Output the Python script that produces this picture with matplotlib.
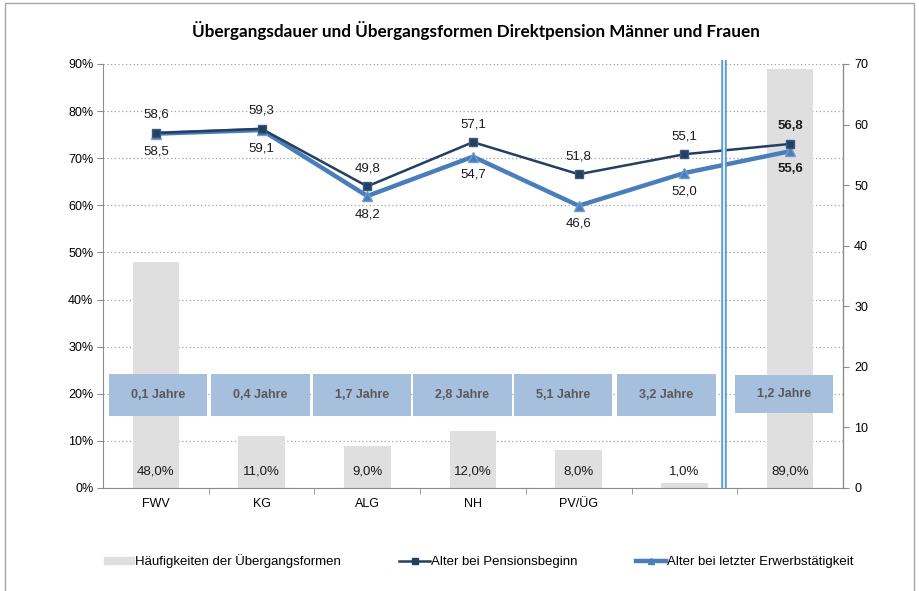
import numpy as np
import matplotlib.pyplot as plt
import matplotlib.patches as mpatch
from matplotlib.lines import Line2D

plt.rcParams['font.family'] = ['Liberation Sans', 'DejaVu Sans']

categories = ['FWV', 'KG', 'ALG', 'NH', 'PV/ÜG', '', '']
haeufigkeit = [48.0, 11.0, 9.0, 12.0, 8.0, 1.0, 89.0]
alter_pension = [58.6, 59.3, 49.8, 57.1, 51.8, 55.1, 56.8]
alter_erwerb = [58.5, 59.1, 48.2, 54.7, 46.6, 52.0, 55.6]
dauer = ['0,1 Jahre', '0,4 Jahre', '1,7 Jahre', '2,8 Jahre', '5,1 Jahre', '3,2 Jahre', '1,2 Jahre']

# where the duration boxes sit along the x axis
box_x = [0.02, 0.99, 1.95, 2.90, 3.85, 4.83, 5.94]

def de(v, fmt='{:.1f}'):
    return fmt.format(v).replace('.', ',')

GRAY = '#8c8c8c'
DARK = '#243f60'
MID = '#4a7ebb'

fig = plt.figure(figsize=(9.19, 5.91), dpi=100)
ax = fig.add_axes([103/919, 1-488/591, 740/919, 424/591])
ax2 = ax.twinx()

x = np.arange(len(categories))

# bars on the left axis
ax.bar(x, haeufigkeit, width=0.44, color='#dfdfdf', zorder=2)
for xi, h in zip(x, haeufigkeit):
    ax.text(xi, 3.4, de(h) + '%', ha='center', va='center', fontsize=9.5, color='#1a1a1a', zorder=3)

ax.set_xlim(-0.5, len(categories) - 0.5)
ax.set_ylim(0, 90)
ax.set_yticks(np.arange(0, 91, 10))
ax.set_yticklabels([f'{v}%' for v in range(0, 91, 10)], fontsize=9)
ax.yaxis.grid(True, linestyle=(0, (1, 2)), color='#a0a0a0', lw=0.9, zorder=0)
ax.set_axisbelow(True)
ax.set_xticks(x)
ax.set_xticklabels(categories, fontsize=9)
ax.tick_params(axis='x', which='major', length=0, pad=7)
ax.set_xticks(np.arange(0.5, len(categories) - 0.5, 1), minor=True)
ax.tick_params(axis='x', which='minor', length=4, color=GRAY)
ax.tick_params(axis='y', length=4, color=GRAY, pad=3)
for s in ['top']:
    ax.spines[s].set_visible(False)
    ax2.spines[s].set_visible(False)
for s in ['left', 'bottom']:
    ax.spines[s].set_color(GRAY)
ax2.spines['right'].set_color(GRAY)
ax2.spines['left'].set_visible(False)
ax2.spines['bottom'].set_visible(False)

# duration boxes
for i, (bx, txt) in enumerate(zip(box_x, dauer)):
    y0, y1 = (16.0, 23.9) if i == len(dauer) - 1 else (15.3, 24.2)
    ax.add_patch(mpatch.Rectangle((bx - 0.465, y0), 0.93, y1 - y0, facecolor='#a6bfdd',
                                  edgecolor='none', zorder=4))
    ax.text(bx, (y0 + y1) / 2, txt, ha='center', va='center', fontsize=9,
            fontweight='bold', color='#595959', zorder=5)

# age lines on the right axis
ax2.plot(x, alter_erwerb, color=MID, lw=3.2, marker='^', ms=6.5, mfc=MID, mec='#6f9bd1', zorder=3)
ax2.plot(x, alter_pension, color=DARK, lw=1.8, marker='s', ms=6, mfc=DARK, mec='#3a5a80', zorder=4)
ax2.set_ylim(0, 70)
ax2.set_yticks(np.arange(0, 71, 10))
ax2.tick_params(axis='y', labelsize=9, length=4, color=GRAY, pad=4)

for i, (p, e) in enumerate(zip(alter_pension, alter_erwerb)):
    w = 'bold' if i == len(x) - 1 else 'normal'
    ax2.annotate(de(p), (i, p), xytext=(0, 13), textcoords='offset points', ha='center',
                 va='center', fontsize=9.5, fontweight=w, color='#1a1a1a')
    ax2.annotate(de(e), (i, e), xytext=(0, -13), textcoords='offset points', ha='center',
                 va='center', fontsize=9.5, fontweight=w, color='#1a1a1a')

# double separator line
for lw, c in [(4.0, '#5b9bd5'), (1.2, 'white')]:
    ax2.plot([5.37, 5.37], [0, 70.7], color=c, lw=lw, clip_on=False, zorder=6,
             solid_capstyle='butt')

fig.text(476/919, 1 - 30/591, 'Übergangsdauer und Übergangsformen Direktpension Männer und Frauen',
         ha='center', va='center', fontsize=12.3, fontweight='bold', family=['Lato', 'DejaVu Sans'])

handles = [mpatch.Patch(color='#dfdfdf'),
           Line2D([], [], color=DARK, lw=1.8, marker='s', ms=5),
           Line2D([], [], color=MID, lw=3.2, marker='^', ms=5)]
labels = ['Häufigkeiten der Übergangsformen', 'Alter bei Pensionsbeginn',
          'Alter bei letzter Erwerbstätigkeit']
fig.legend(handles, labels, loc='center', bbox_to_anchor=(0.521, 1 - 561/591), ncol=3,
           frameon=False, fontsize=9.5, handlelength=2.3, handletextpad=0.1,
           columnspacing=4.4, handleheight=0.5)

fig.patches.append(mpatch.Rectangle((5/919, -0.1), 909/919, 1.0949, transform=fig.transFigure,
                                    fill=False, edgecolor='#a6a6a6', lw=1))

fig.savefig('out.png', dpi=100)
